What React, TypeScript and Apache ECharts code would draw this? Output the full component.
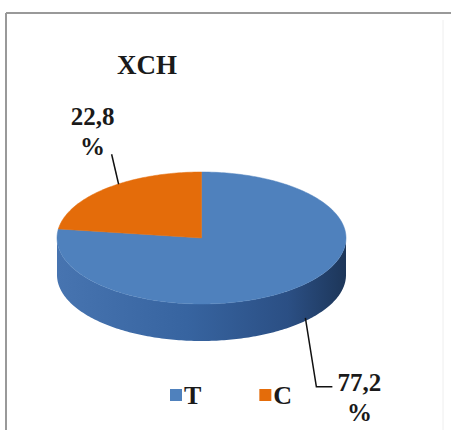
import React, { useEffect, useRef } from 'react';
import * as echarts from 'echarts';

const titleText = 'XCH';
const categories = ['T', 'C'];
const values = [77.2, 22.8];
const colors = ['#4F81BD', '#E46C0A'];
const sideStops = [
  ['#4774B0', '#3764A0', '#2B4F84', '#1D3659'],
  ['#C95F0A', '#B35408', '#964607', '#6E3405'],
];

const CX = 201.5;
const CY = 238;
const RX = 144.5;
const RY = 66;
const DEPTH = 37;
const FONT = '"Liberation Serif", "Times New Roman", serif';

function pt(a: number, dy = 0): number[] {
  return [CX + RX * Math.cos(a), CY - RY * Math.sin(a) + dy];
}

function arc(from: number, to: number, dy: number): number[][] {
  const n = Math.max(2, Math.ceil((Math.abs(to - from) * 180) / Math.PI));
  const out: number[][] = [];
  for (let k = 0; k <= n; k++) out.push(pt(from + ((to - from) * k) / n, dy));
  return out;
}

function fmt(v: number) {
  return v.toFixed(1).replace('.', ',') + '\n%';
}

export default function App() {
  const ref = useRef<HTMLDivElement>(null);
  useEffect(() => {
    if (!ref.current) return;
    const chart = echarts.init(ref.current, undefined, { renderer: 'svg' });
    const total = values.reduce((s, v) => s + v, 0);

    const renderItem = (params: any, api: any) => {
      const i = params.seriesIndex;
      const v = api.value(0);
      let before = 0;
      for (let k = 0; k < i; k++) before += values[k];
      const a0 = Math.PI / 2 - (2 * Math.PI * before) / total;
      const a1 = a0 - (2 * Math.PI * v) / total;
      const children: any[] = [];

      // visible side wall (front half: angles in [-PI, 0])
      for (let s = -1; s <= 1; s++) {
        const hi = Math.min(a0 + s * 2 * Math.PI, 0);
        const lo = Math.max(a1 + s * 2 * Math.PI, -Math.PI);
        if (hi > lo) {
          const top = arc(lo, hi, 0);
          const bottom = arc(hi, lo, DEPTH);
          const st = sideStops[i];
          children.push({
            type: 'polygon',
            shape: { points: top.concat(bottom) },
            style: {
              fill: new echarts.graphic.LinearGradient(CX - RX, 0, CX + RX, 0, [
                { offset: 0, color: st[0] },
                { offset: 0.45, color: st[1] },
                { offset: 0.8, color: st[2] },
                { offset: 1, color: st[3] },
              ], true),
              stroke: null,
            },
          });
        }
      }

      // top face
      children.push({
        type: 'polygon',
        shape: { points: [[CX, CY]].concat(arc(a0, a1, 0)) },
        style: { fill: colors[i], stroke: colors[i], lineWidth: 0.5 },
      });

      // label + leader line
      const m = (a0 + a1) / 2;
      const txt = fmt(v);
      if (Math.sin(m) >= 0) {
        const p = pt(m);
        const start = [p[0] + 12, p[1] - 4];
        const end = [start[0] - 7, start[1] - 30];
        children.push({
          type: 'polyline',
          shape: { points: [start, end] },
          style: { stroke: '#111', lineWidth: 1.5, fill: null },
        });
        children.push({
          type: 'text',
          x: end[0] - 19,
          y: end[1] + 7 - 60,
          style: {
            text: txt, fill: '#1a1a1a', fontFamily: FONT, fontWeight: 'bold', fontSize: 25,
            lineHeight: 30, align: 'center', verticalAlign: 'top', textAlign: 'center', textVerticalAlign: 'top',
          },
        });
      } else {
        const p = pt(m, DEPTH);
        const start = [p[0] + 9, p[1] - 7];
        const bend = [start[0] + 11, start[1] + 69];
        const end = [bend[0] + 16, bend[1]];
        children.push({
          type: 'polyline',
          shape: { points: [start, bend, end] },
          style: { stroke: '#111', lineWidth: 1.5, fill: null },
        });
        children.push({
          type: 'text',
          x: end[0] + 27,
          y: end[1] - 19,
          style: {
            text: txt, fill: '#1a1a1a', fontFamily: FONT, fontWeight: 'bold', fontSize: 25,
            lineHeight: 30, align: 'center', verticalAlign: 'top', textAlign: 'center', textVerticalAlign: 'top',
          },
        });
      }
      return { type: 'group', children };
    };

    chart.setOption({
      animation: false,
      backgroundColor: '#ffffff',
      title: {
        text: titleText,
        left: 112,
        top: 46,
        textStyle: { fontFamily: FONT, fontWeight: 'bold', fontSize: 27, color: '#1a1a1a' },
      },
      legend: {
        data: categories,
        left: 165,
        top: 377,
        icon: 'rect',
        itemWidth: 12,
        itemHeight: 12,
        itemGap: 58,
        textStyle: { fontFamily: FONT, fontWeight: 'bold', fontSize: 26, color: '#1a1a1a', lineHeight: 26, padding: [0, 0, 0, -3] },
      },
      graphic: [
        { type: 'line', shape: { x1: 6, y1: 13, x2: 451, y2: 13 }, style: { stroke: '#999', lineWidth: 2 } },
        { type: 'line', shape: { x1: 6, y1: 13, x2: 6, y2: 430 }, style: { stroke: '#999', lineWidth: 2 } },
        { type: 'line', shape: { x1: 443, y1: 20, x2: 443, y2: 430 }, style: { stroke: '#eeeeee', lineWidth: 1 } },
      ],
      series: categories.map((name, i) => ({
        type: 'custom',
        name,
        coordinateSystem: 'none',
        silent: true,
        itemStyle: { color: colors[i] },
        data: [values[i]],
        renderItem,
      })),
    });
    return () => chart.dispose();
  }, []);
  return <div ref={ref} style={{ position: 'fixed', left: 0, top: 0, width: 451, height: 430 }} />;
}
